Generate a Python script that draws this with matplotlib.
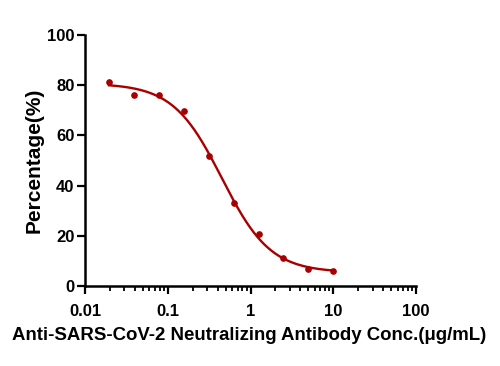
import numpy as np
import matplotlib
matplotlib.use("Agg")
import matplotlib.pyplot as plt
from matplotlib.ticker import LogLocator, FixedLocator, NullFormatter

conc = [0.0195, 0.039, 0.078, 0.156, 0.3125, 0.625, 1.25, 2.5, 5.0, 10.0]
pct = [81.3, 76.0, 76.0, 69.7, 51.8, 33.0, 20.7, 11.2, 6.8, 6.0]
x_ticks = [0.01, 0.1, 1, 10, 100]
x_tick_labels = ["0.01", "0.1", "1", "10", "100"]
y_ticks = [0, 20, 40, 60, 80, 100]

color = "#A80000"

# 4-parameter logistic fit (Levenberg-Marquardt) on the data
x = np.log10(np.array(conc))
y = np.array(pct)

def model(p, xx):
    bot, top, lec, h = p
    return bot + (top - bot) / (1 + 10 ** ((xx - lec) * h))

p = np.array([5.0, 80.0, np.log10(0.4), 1.2])
lam = 1e-2
for _ in range(500):
    r = y - model(p, x)
    J = np.zeros((len(x), 4))
    for i in range(4):
        dp = np.zeros(4); dp[i] = 1e-6
        J[:, i] = (model(p + dp, x) - model(p - dp, x)) / 2e-6
    A = J.T @ J
    g = J.T @ r
    step = np.linalg.solve(A + lam * np.diag(np.diag(A)), g)
    pn = p + step
    if np.sum((y - model(pn, x)) ** 2) < np.sum(r ** 2):
        p = pn; lam *= 0.5
    else:
        lam *= 5

xf = np.linspace(x.min(), x.max(), 300)
yf = model(p, xf)

plt.rcParams['font.family'] = ['Liberation Sans', 'DejaVu Sans']
fig = plt.figure(figsize=(5, 3.66), dpi=100)
ax = fig.add_axes([0.17, 0.2186, 0.662, 0.6854])

ax.plot(10 ** xf, yf, color=color, lw=1.7, zorder=3)
ax.plot(conc, pct, 'o', color=color, ms=3.8, zorder=4)

ax.set_xscale('log')
ax.set_xlim(0.01, 100)
ax.set_ylim(0, 100)
ax.xaxis.set_major_locator(FixedLocator(x_ticks))
ax.set_xticklabels(x_tick_labels)
ax.xaxis.set_minor_locator(LogLocator(base=10, subs=np.arange(2, 10)))
ax.xaxis.set_minor_formatter(NullFormatter())
ax.set_yticks(y_ticks)

for s in ['top', 'right']:
    ax.spines[s].set_visible(False)
for s in ['left', 'bottom']:
    ax.spines[s].set_linewidth(1.8)

ax.tick_params(axis='both', which='major', direction='out', length=6, width=1.6,
               labelsize=12)
ax.tick_params(axis='x', which='major', pad=7)
ax.tick_params(axis='y', which='major', pad=1.5)
ax.tick_params(axis='x', which='minor', direction='out', length=3.5, width=1.3)
for lab in ax.get_xticklabels() + ax.get_yticklabels():
    lab.set_fontweight('bold')

ax.set_xlabel("Anti-SARS-CoV-2 Neutralizing Antibody Conc.(μg/mL)", fontsize=13.4,
              fontweight='bold')
ax.set_ylabel("Percentage(%)", fontsize=15, fontweight='bold')
ax.xaxis.set_label_coords(0.497, -0.163)
ax.yaxis.set_label_coords(-0.154, 0.5)
ax.yaxis.label.set_va('center')

fig.savefig("out.png", dpi=100)
